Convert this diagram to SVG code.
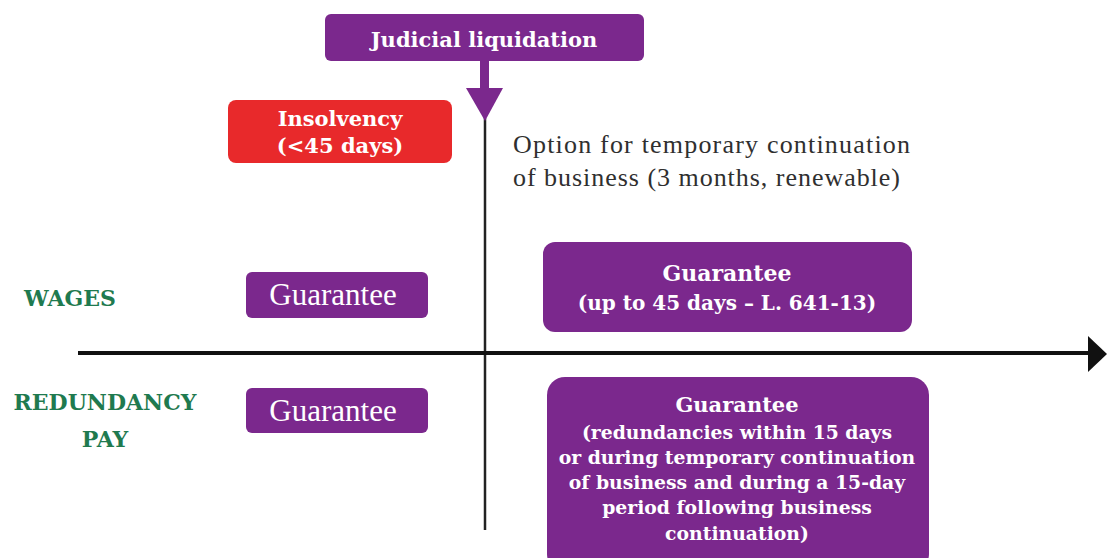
<svg xmlns="http://www.w3.org/2000/svg" width="1107" height="558" viewBox="0 0 1107 558">
<style>
.box{fill:#7b288d}
.red{fill:#e8292b}
.wt{fill:#ffffff;font-family:"DejaVu Serif","Liberation Serif",serif;text-anchor:middle}
.reg{fill:#ffffff;font-family:"Liberation Serif",serif;text-anchor:middle}
.b{font-weight:bold}
.lbl{fill:#1f7a4f;font-family:"DejaVu Serif","Liberation Serif",serif;font-weight:bold;text-anchor:middle;font-size:22px}
.note{fill:#2f2f2f;font-family:"Liberation Serif",serif;font-size:26px}
</style>
<rect width="1107" height="558" fill="#ffffff"/>
<g id="connectors">
  <line x1="485" y1="118" x2="485" y2="530" stroke="#222" stroke-width="2.5"/>
  <line x1="78" y1="353" x2="1092" y2="353" stroke="#111" stroke-width="4"/>
  <polygon points="1088,336 1107,354 1088,372" fill="#111"/>
  <rect x="480" y="60" width="9" height="30" fill="#7b288d"/>
  <polygon points="466,88 503,88 485,121" fill="#7b288d"/>
</g>
<g id="judicial">
  <rect class="box" x="325" y="14" width="319" height="47" rx="6"/>
  <text class="wt b" x="484" y="47" font-size="21">Judicial liquidation</text>
</g>
<g id="insolvency">
  <rect class="red" x="228" y="100" width="224" height="63" rx="8"/>
  <text class="wt b" x="340" y="126" font-size="21">Insolvency</text>
  <text class="wt b" x="340" y="153" font-size="21">(&lt;45 days)</text>
</g>
<g id="option">
  <text class="note" x="513" y="153" textLength="397">Option for temporary continuation</text>
  <text class="note" x="513" y="186" textLength="387">of business (3 months, renewable)</text>
</g>
<g id="wages">
  <text class="lbl" x="70" y="306">WAGES</text>
</g>
<g id="redundancy">
  <text class="lbl" x="105" y="410">REDUNDANCY</text>
  <text class="lbl" x="105" y="447">PAY</text>
</g>
<g id="wages-before">
  <rect class="box" x="246" y="272" width="182" height="46" rx="6"/>
  <text class="reg" x="333" y="305" font-size="31">Guarantee</text>
</g>
<g id="wages-after">
  <rect class="box" x="543" y="242" width="369" height="90" rx="12"/>
  <text class="wt b" x="727" y="281" font-size="22">Guarantee</text>
  <text class="wt b" x="727" y="310" font-size="20">(up to 45 days – L. 641-13)</text>
</g>
<g id="redundancy-before">
  <rect class="box" x="246" y="388" width="182" height="45" rx="6"/>
  <text class="reg" x="333" y="421" font-size="31">Guarantee</text>
</g>
<g id="redundancy-after">
  <rect class="box" x="547" y="377" width="382" height="195" rx="18"/>
  <text class="wt b" x="737" y="412" font-size="21">Guarantee</text>
  <text class="wt b" x="737" y="439" font-size="18.8">(redundancies within 15 days</text>
  <text class="wt b" x="737" y="464" font-size="18.8">or during temporary continuation</text>
  <text class="wt b" x="737" y="489" font-size="18.8">of business and during a 15-day</text>
  <text class="wt b" x="737" y="514" font-size="18.8">period following business</text>
  <text class="wt b" x="737" y="540" font-size="18.8">continuation)</text>
</g>
</svg>
